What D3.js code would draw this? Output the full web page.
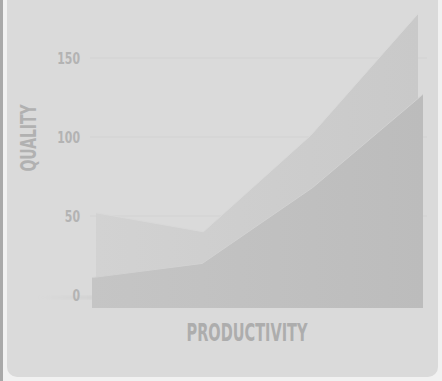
<!DOCTYPE html>
<html>
<head>
<meta charset="utf-8">
<script src="https://cdn.jsdelivr.net/npm/d3@7/dist/d3.min.js"></script>
<style>
  html, body { margin: 0; padding: 0; background: #f1f1f1; }
  svg { display: block; }
  text { font-family: "DejaVu Sans Condensed", "Liberation Sans", sans-serif; font-weight: bold; }
</style>
</head>
<body>
<svg id="chart" width="442" height="381"></svg>
<script>
// Chart data
const categories = ["A", "B", "C", "D"];
const backSeries = [52, 40, 101, 178];
const frontSeries = [11, 20, 68, 127];
const yTicks = [0, 50, 100, 150];
const xTitle = "PRODUCTIVITY";
const yTitle = "QUALITY";

const svg = d3.select("#chart");
const W = 442, H = 381;

// panel
svg.append("rect").attr("x", 0).attr("y", 0).attr("width", W).attr("height", H).attr("fill", "#f1f1f1");
svg.append("rect").attr("x", 0).attr("y", 0).attr("width", 3).attr("height", H).attr("fill", "#a9a9a9");
svg.append("rect").attr("x", 7).attr("y", -20).attr("width", 431).attr("height", 397)
  .attr("rx", 10).attr("fill", "#dadada");

const y = d3.scaleLinear().domain([0, 150]).range([295, 58]);
// the two series sit on slightly different depth planes
const xBack = d3.scalePoint().domain(categories).range([96, 418]);
const xFront = d3.scalePoint().domain(categories).range([92, 423]);
const floorDepth = 13;

const defs = svg.append("defs");
function grad(id, c0, c1, o0 = 1, o1 = 1) {
  const g = defs.append("linearGradient").attr("id", id).attr("x1", "0").attr("x2", "1").attr("y1", "0").attr("y2", "0");
  g.append("stop").attr("offset", "0").attr("stop-color", c0).attr("stop-opacity", o0);
  g.append("stop").attr("offset", "1").attr("stop-color", c1).attr("stop-opacity", o1);
}
grad("gBack", "#d2d2d2", "#c9c9c9");
grad("gFront", "#c5c5c5", "#bcbcbc");
grad("gShadow", "#cfcfcf", "#cfcfcf", 0, 1);
defs.append("filter").attr("id", "soft").append("feGaussianBlur").attr("stdDeviation", 1.5);

// gridlines
svg.append("g").selectAll("line").data(yTicks.filter(d => d > 0)).join("line")
  .attr("x1", 90).attr("x2", 427)
  .attr("y1", d => y(d)).attr("y2", d => y(d))
  .attr("stroke", "#d2d2d2").attr("stroke-width", 1);

// floor shadow
svg.append("rect").attr("x", 40).attr("y", y(0) + 1).attr("width", 55).attr("height", 3)
  .attr("fill", "url(#gShadow)").attr("filter", "url(#soft)");

// y axis labels
const yAxis = d3.axisLeft(y).tickValues(yTicks).tickSize(0).tickPadding(0);
const ya = svg.append("g").attr("transform", "translate(80,0)").call(yAxis);
ya.select(".domain").remove();
ya.selectAll("text").attr("font-size", 16).style("fill", "#b3b3b3")
  .attr("textLength", d => String(d).length * 7.6).attr("lengthAdjust", "spacingAndGlyphs");

// back area
const backArea = d3.area()
  .x((d, i) => xBack(categories[i]))
  .y0(y(0))
  .y1(d => y(d));
svg.append("path").datum(backSeries).attr("d", backArea).attr("fill", "url(#gBack)");
svg.append("path").datum(backSeries)
  .attr("d", d3.line().x((d, i) => xBack(categories[i])).y(d => y(d)))
  .attr("fill", "none").attr("stroke", "#d9d9d9").attr("stroke-width", 1);

// front area
const frontArea = d3.area()
  .x((d, i) => xFront(categories[i]))
  .y0(y(0) + floorDepth)
  .y1(d => y(d));
svg.append("path").datum(frontSeries).attr("d", frontArea).attr("fill", "url(#gFront)");
svg.append("path").datum(frontSeries)
  .attr("d", d3.line().x((d, i) => xFront(categories[i])).y(d => y(d)))
  .attr("fill", "none").attr("stroke", "#d2d2d2").attr("stroke-width", 1);

// axis titles
svg.append("text").attr("x", 247).attr("y", 341).attr("text-anchor", "middle")
  .attr("font-size", 25).attr("textLength", 121).attr("lengthAdjust", "spacingAndGlyphs")
  .style("fill", "#adadad").text(xTitle);
svg.append("text").attr("transform", "translate(36,138) rotate(-90)").attr("text-anchor", "middle")
  .attr("font-size", 22).attr("textLength", 67).attr("lengthAdjust", "spacingAndGlyphs")
  .style("fill", "#b1b1b1").text(yTitle);
</script>
</body>
</html>
